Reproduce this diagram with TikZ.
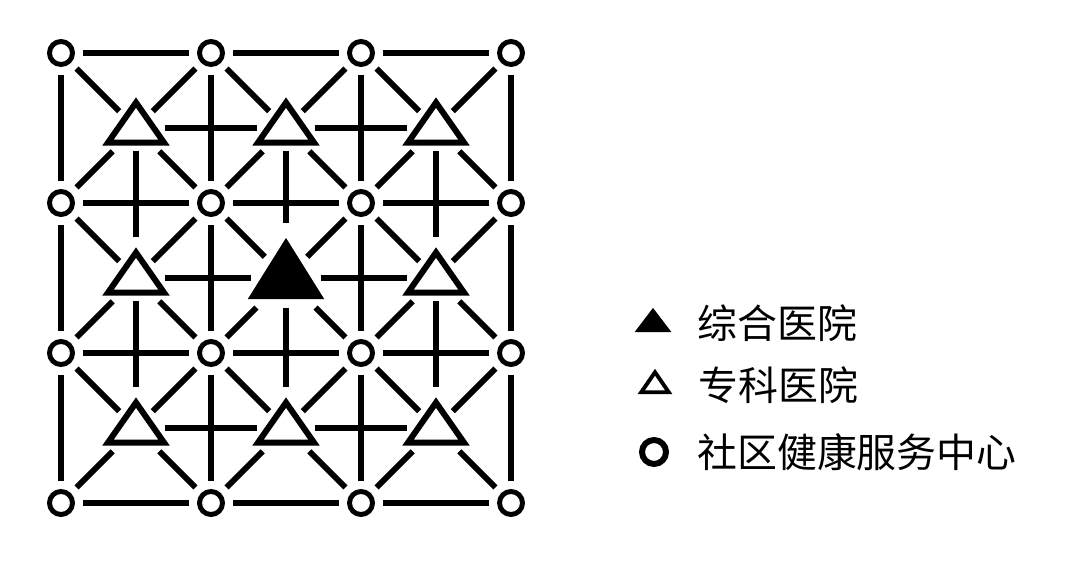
\documentclass[tikz,border=0pt]{standalone}
\usepackage{fontspec}
\newfontfamily\cjk{Noto Sans CJK SC}
\usetikzlibrary{shapes.geometric,positioning}

\tikzset{
  centre/.style={circle, draw, fill=white, line width=2.8pt, minimum size=0.46cm, inner sep=0pt, outer sep=6pt},
  special/.style={isosceles triangle, isosceles triangle apex angle=70, isosceles triangle stretches,
    shape border rotate=90, draw, fill=white, line width=3.4pt, inner sep=0pt,
    minimum width=1.12cm, minimum height=0.8cm, outer sep=5pt},
  general/.style={special, fill=black, line width=0.5pt, minimum width=1.5cm, minimum height=1.2cm},
  link/.style={line width=3.4pt},
  legtext/.style={font=\cjk\fontsize{22.7}{27}\selectfont, inner sep=0pt},
}

\begin{document}
\begin{tikzpicture}
  \useasboundingbox (0,0) rectangle (21.6,11.2);

  % community health centres on the grid
  \foreach \i in {0,...,3}
    \foreach \j in {0,...,3}
      \node[centre] (c-\i-\j) at (1.22+3*\i, 10.14-3*\j) {};

  % hospitals in the middle of each cell
  \foreach \i in {0,1,2}
    \foreach \j in {0,1,2}{
      \ifnum\i=1 \ifnum\j=1
        \node[general] (t-\i-\j) at (2.72+3*\i, 8.64-3*\j) {};
      \else
        \node[special] (t-\i-\j) at (2.72+3*\i, 8.64-3*\j) {};
      \fi \else
        \node[special] (t-\i-\j) at (2.72+3*\i, 8.64-3*\j) {};
      \fi
    }

  % links between centres
  \foreach \i/\ii in {0/1,1/2,2/3}
    \foreach \j in {0,...,3}{
      \draw[link] (c-\i-\j) -- (c-\ii-\j);
      \draw[link] (c-\j-\i) -- (c-\j-\ii);
    }

  % links between hospitals
  \foreach \i/\ii in {0/1,1/2}
    \foreach \j in {0,1,2}{
      \draw[link] (t-\i-\j) -- (t-\ii-\j);
      \draw[link] (t-\j-\i) -- (t-\j-\ii);
    }

  % hospital to the four corner centres
  \foreach \i/\ii in {0/1,1/2,2/3}
    \foreach \j/\jj in {0/1,1/2,2/3}{
      \draw[link] (t-\i-\j) -- (c-\i-\j);
      \draw[link] (t-\i-\j) -- (c-\ii-\j);
      \draw[link] (t-\i-\j) -- (c-\i-\jj);
      \draw[link] (t-\i-\j) -- (c-\ii-\jj);
    }

  % legend
  \node[general, minimum width=0.7cm, minimum height=0.46cm, outer sep=0pt] (lg1) at (13.06,4.74) {};
  \node[special, line width=2.2pt, minimum width=0.55cm, minimum height=0.4cm, outer sep=0pt] (lg2) at (13.1,3.5) {};
  \node[centre, line width=3.4pt, minimum size=0.48cm, outer sep=0pt] (lg3) at (13.08,2.16) {};

  \node[legtext, right=0.88cm of lg1.center] (lt1) {综合医院};
  \node[legtext, right=0.86cm of lg2.center] (lt2) {专科医院};
  \node[legtext, right=0.86cm of lg3.center] (lt3) {社区健康服务中心};
\end{tikzpicture}
\end{document}
